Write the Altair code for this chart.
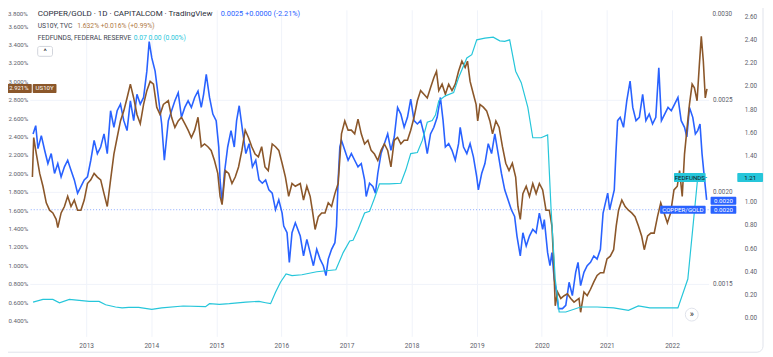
import altair as alt
import pandas as pd

# ---------------- data ----------------
# COPPER/GOLD (right axis, 0.0015 - 0.0030)
cg_year = [2012.184, 2012.225, 2012.260, 2012.311, 2012.362, 2012.412, 2012.463, 2012.514, 2012.564, 2012.615,
           2012.666, 2012.716, 2012.767, 2012.818, 2012.868, 2012.919, 2012.970, 2013.020, 2013.071, 2013.122,
           2013.172, 2013.223, 2013.274, 2013.324, 2013.375, 2013.426, 2013.476, 2013.527, 2013.578, 2013.628,
           2013.679, 2013.730, 2013.780, 2013.831, 2013.882, 2013.932, 2013.968, 2014.008, 2014.059, 2014.110,
           2014.160, 2014.201, 2014.262, 2014.312, 2014.363, 2014.414, 2014.464, 2014.515, 2014.566, 2014.616,
           2014.667, 2014.718, 2014.768, 2014.804, 2014.845, 2014.895, 2014.946, 2014.997, 2015.037, 2015.057,
           2015.088, 2015.123, 2015.174, 2015.225, 2015.275, 2015.311, 2015.351, 2015.402, 2015.453, 2015.503,
           2015.554, 2015.605, 2015.655, 2015.706, 2015.757, 2015.807, 2015.858, 2015.909, 2015.959, 2016.010,
           2016.035, 2016.086, 2016.121, 2016.162, 2016.213, 2016.289, 2016.339, 2016.390, 2016.441, 2016.491,
           2016.542, 2016.593, 2016.643, 2016.684, 2016.719, 2016.770, 2016.821, 2016.846, 2016.871, 2016.897,
           2016.922, 2016.973, 2017.024, 2017.074, 2017.125, 2017.176, 2017.226, 2017.277, 2017.302, 2017.353,
           2017.404, 2017.444, 2017.480, 2017.530, 2017.581, 2017.632, 2017.682, 2017.733, 2017.784, 2017.834,
           2017.885, 2017.936, 2017.986, 2018.037, 2018.088, 2018.138, 2018.189, 2018.240, 2018.290, 2018.341,
           2018.392, 2018.442, 2018.483, 2018.518, 2018.569, 2018.620, 2018.670, 2018.721, 2018.746, 2018.797,
           2018.848, 2018.898, 2018.949, 2019.000, 2019.025, 2019.076, 2019.126, 2019.177, 2019.228, 2019.278,
           2019.329, 2019.380, 2019.430, 2019.481, 2019.532, 2019.582, 2019.618, 2019.669, 2019.709, 2019.760,
           2019.810, 2019.861, 2019.912, 2019.962, 2020.013, 2020.038, 2020.089, 2020.125, 2020.155, 2020.190,
           2020.226, 2020.256, 2020.317, 2020.368, 2020.419, 2020.469, 2020.520, 2020.556, 2020.596, 2020.647,
           2020.697, 2020.748, 2020.799, 2020.849, 2020.900, 2020.941, 2020.976, 2021.012, 2021.042, 2021.077,
           2021.113, 2021.138, 2021.164, 2021.204, 2021.255, 2021.305, 2021.356, 2021.397, 2021.447, 2021.498,
           2021.549, 2021.599, 2021.650, 2021.701, 2021.751, 2021.797, 2021.837, 2021.888, 2021.939, 2021.989,
           2022.040, 2022.091, 2022.141, 2022.192, 2022.228, 2022.268, 2022.319, 2022.359, 2022.395, 2022.430,
           2022.461, 2022.496, 2022.532]
cg_val = [0.002315, 0.002360, 0.002235, 0.002306, 0.002226, 0.002154, 0.002208, 0.002100, 0.002154, 0.002082,
          0.002136, 0.002172, 0.002118, 0.002065, 0.001993, 0.002029, 0.002065, 0.002082, 0.002172, 0.002280,
          0.002208, 0.002244, 0.002315, 0.002208, 0.002441, 0.002351, 0.002441, 0.002477, 0.002387, 0.002333,
          0.002495, 0.002387, 0.002530, 0.002477, 0.002513, 0.002656, 0.002817, 0.002728, 0.002656, 0.002513,
          0.002369, 0.002172, 0.002387, 0.002441, 0.002495, 0.002539, 0.002405, 0.002459, 0.002495, 0.002459,
          0.002513, 0.002548, 0.002459, 0.002530, 0.002638, 0.002513, 0.002423, 0.002387, 0.002244, 0.002065,
          0.001939, 0.002100, 0.002244, 0.002333, 0.002244, 0.002387, 0.002468, 0.002333, 0.002208, 0.002262,
          0.002136, 0.002172, 0.002065, 0.002047, 0.002065, 0.002011, 0.001993, 0.001903, 0.001957, 0.001885,
          0.001814, 0.001778, 0.001617, 0.001778, 0.001832, 0.001760, 0.001652, 0.001742, 0.001670, 0.001599,
          0.001688, 0.001635, 0.001599, 0.001545, 0.001635, 0.001688, 0.001724, 0.001814, 0.002065, 0.002244,
          0.002280, 0.002226, 0.002172, 0.002208, 0.002172, 0.002136, 0.002154, 0.002065, 0.001975, 0.002047,
          0.002029, 0.001993, 0.002100, 0.002208, 0.002262, 0.002315, 0.002226, 0.002298, 0.002459, 0.002423,
          0.002351, 0.002405, 0.002504, 0.002387, 0.002369, 0.002387, 0.002315, 0.002208, 0.002315, 0.002351,
          0.002405, 0.002513, 0.002387, 0.002244, 0.002262, 0.002226, 0.002172, 0.002262, 0.002351, 0.002244,
          0.002208, 0.002262, 0.002190, 0.002082, 0.002011, 0.002100, 0.002154, 0.002262, 0.002208, 0.002315,
          0.002208, 0.002100, 0.002011, 0.001957, 0.001903, 0.001867, 0.001760, 0.001652, 0.001778, 0.001706,
          0.001760, 0.001796, 0.001778, 0.001885, 0.001796, 0.001850, 0.001670, 0.001599, 0.001670, 0.001527,
          0.001455, 0.001366, 0.001366, 0.001384, 0.001509, 0.001437, 0.001563, 0.001617, 0.001491, 0.001563,
          0.001599, 0.001617, 0.001652, 0.001635, 0.001688, 0.001885, 0.001939, 0.001993, 0.001903, 0.001957,
          0.002011, 0.002208, 0.002387, 0.002405, 0.002351, 0.002495, 0.002602, 0.002459, 0.002387, 0.002405,
          0.002530, 0.002387, 0.002423, 0.002369, 0.002405, 0.002674, 0.002387, 0.002423, 0.002459, 0.002441,
          0.002477, 0.002513, 0.002387, 0.002351, 0.002298, 0.002459, 0.002405, 0.002315, 0.002333, 0.002369,
          0.002208, 0.002082, 0.001957]

# US10Y yield, % (left axis)
us_year = [2012.174, 2012.194, 2012.235, 2012.286, 2012.336, 2012.387, 2012.438, 2012.488, 2012.539, 2012.564,
           2012.615, 2012.666, 2012.716, 2012.767, 2012.818, 2012.868, 2012.919, 2012.970, 2013.020, 2013.071,
           2013.122, 2013.172, 2013.223, 2013.274, 2013.324, 2013.375, 2013.426, 2013.476, 2013.527, 2013.578,
           2013.628, 2013.679, 2013.730, 2013.780, 2013.831, 2013.882, 2013.932, 2013.983, 2014.034, 2014.084,
           2014.135, 2014.186, 2014.262, 2014.312, 2014.363, 2014.414, 2014.464, 2014.515, 2014.566, 2014.616,
           2014.667, 2014.718, 2014.768, 2014.819, 2014.870, 2014.920, 2014.971, 2015.022, 2015.057, 2015.088,
           2015.138, 2015.189, 2015.240, 2015.290, 2015.341, 2015.392, 2015.443, 2015.493, 2015.544, 2015.595,
           2015.645, 2015.696, 2015.747, 2015.797, 2015.858, 2015.909, 2015.959, 2016.010, 2016.061, 2016.111,
           2016.162, 2016.213, 2016.289, 2016.339, 2016.390, 2016.441, 2016.481, 2016.517, 2016.567, 2016.618,
           2016.669, 2016.719, 2016.770, 2016.821, 2016.871, 2016.922, 2016.973, 2017.024, 2017.074, 2017.125,
           2017.176, 2017.226, 2017.277, 2017.328, 2017.378, 2017.429, 2017.480, 2017.530, 2017.581, 2017.632,
           2017.682, 2017.733, 2017.784, 2017.834, 2017.885, 2017.936, 2017.986, 2018.037, 2018.088, 2018.138,
           2018.189, 2018.240, 2018.290, 2018.341, 2018.382, 2018.417, 2018.468, 2018.518, 2018.569, 2018.620,
           2018.670, 2018.721, 2018.772, 2018.822, 2018.858, 2018.898, 2018.949, 2018.990, 2019.015, 2019.050,
           2019.101, 2019.152, 2019.202, 2019.243, 2019.294, 2019.344, 2019.395, 2019.446, 2019.496, 2019.547,
           2019.598, 2019.633, 2019.669, 2019.709, 2019.760, 2019.810, 2019.861, 2019.912, 2019.962, 2020.013,
           2020.064, 2020.115, 2020.155, 2020.180, 2020.206, 2020.241, 2020.292, 2020.343, 2020.393, 2020.444,
           2020.495, 2020.571, 2020.596, 2020.647, 2020.697, 2020.748, 2020.799, 2020.849, 2020.900, 2020.951,
           2021.001, 2021.052, 2021.103, 2021.143, 2021.179, 2021.229, 2021.280, 2021.331, 2021.381, 2021.432,
           2021.483, 2021.533, 2021.574, 2021.625, 2021.675, 2021.726, 2021.777, 2021.827, 2021.878, 2021.929,
           2021.979, 2022.030, 2022.081, 2022.116, 2022.157, 2022.192, 2022.228, 2022.268, 2022.309, 2022.344,
           2022.385, 2022.420, 2022.450, 2022.481, 2022.511, 2022.537]
us_val = [1.96, 2.39, 2.21, 2.00, 1.86, 1.68, 1.60, 1.57, 1.50, 1.41,
          1.57, 1.64, 1.75, 1.64, 1.71, 1.60, 1.60, 1.71, 1.89, 1.93,
          2.00, 1.96, 1.93, 1.78, 1.64, 1.93, 2.21, 2.39, 2.57, 2.68,
          2.82, 2.97, 2.82, 2.64, 2.54, 2.75, 2.90, 3.00, 2.97, 2.72,
          2.64, 2.75, 2.79, 2.61, 2.50, 2.57, 2.61, 2.54, 2.47, 2.39,
          2.47, 2.61, 2.29, 2.32, 2.29, 2.25, 2.14, 2.00, 1.75, 1.66,
          2.03, 2.00, 1.89, 1.96, 2.07, 2.25, 2.47, 2.39, 2.29, 2.21,
          2.18, 2.29, 2.07, 2.03, 2.32, 2.29, 2.25, 2.11, 1.96, 1.75,
          1.89, 1.86, 1.89, 1.71, 1.86, 1.75, 1.57, 1.39, 1.53, 1.57,
          1.57, 1.68, 1.64, 1.78, 1.89, 2.43, 2.57, 2.47, 2.47, 2.43,
          2.59, 2.43, 2.32, 2.36, 2.25, 2.21, 2.14, 2.25, 2.32, 2.25,
          2.07, 2.36, 2.39, 2.32, 2.36, 2.36, 2.47, 2.61, 2.79, 2.90,
          2.86, 2.82, 2.93, 3.04, 3.11, 2.90, 2.97, 2.86, 2.97, 2.90,
          2.97, 3.11, 3.22, 3.15, 3.22, 3.00, 2.86, 2.75, 2.57, 2.75,
          2.72, 2.68, 2.57, 2.43, 2.57, 2.50, 2.29, 2.11, 2.03, 2.11,
          1.96, 1.64, 1.50, 1.78, 1.86, 1.75, 1.89, 1.78, 1.89, 1.82,
          1.60, 1.60, 1.43, 1.07, 0.56, 0.71, 0.64, 0.67, 0.69, 0.64,
          0.60, 0.64, 0.49, 0.71, 0.67, 0.74, 0.82, 0.89, 0.92, 0.92,
          1.07, 1.10, 1.17, 1.43, 1.60, 1.71, 1.64, 1.60, 1.57, 1.53,
          1.43, 1.32, 1.17, 1.32, 1.35, 1.35, 1.53, 1.68, 1.57, 1.46,
          1.57, 1.82, 1.86, 2.03, 1.75, 2.21, 2.47, 2.75, 2.97, 2.93,
          2.79, 3.18, 3.49, 3.22, 2.82, 2.92]

# FEDFUNDS, % (inner right axis)
ff_year = [2012.184, 2012.336, 2012.488, 2012.590, 2012.742, 2012.894, 2013.046, 2013.198, 2013.299, 2013.451,
           2013.552, 2013.654, 2013.806, 2014.008, 2014.160, 2014.490, 2014.834, 2014.895, 2015.047, 2015.199,
           2015.453, 2015.655, 2015.757, 2015.833, 2015.909, 2015.985, 2016.071, 2016.162, 2016.314, 2016.542,
           2016.836, 2016.948, 2017.049, 2017.100, 2017.176, 2017.277, 2017.353, 2017.429, 2017.505, 2017.657,
           2017.834, 2017.910, 2017.986, 2018.088, 2018.164, 2018.240, 2018.316, 2018.366, 2018.417, 2018.518,
           2018.645, 2018.721, 2018.848, 2018.924, 2019.000, 2019.126, 2019.253, 2019.354, 2019.430, 2019.506,
           2019.598, 2019.684, 2019.785, 2019.861, 2019.988, 2020.089, 2020.140, 2020.206, 2020.266, 2020.368,
           2020.596, 2020.849, 2021.103, 2021.331, 2021.483, 2021.660, 2021.863, 2022.091, 2022.243, 2022.319,
           2022.395, 2022.540]
ff_val = [0.134, 0.157, 0.157, 0.128, 0.157, 0.148, 0.140, 0.140, 0.111, 0.091,
          0.083, 0.088, 0.088, 0.071, 0.083, 0.100, 0.094, 0.120, 0.114, 0.120,
          0.134, 0.140, 0.128, 0.120, 0.219, 0.305, 0.376, 0.362, 0.370, 0.396,
          0.413, 0.561, 0.661, 0.667, 0.761, 0.903, 0.917, 1.031, 1.154, 1.154,
          1.160, 1.274, 1.416, 1.425, 1.530, 1.687, 1.701, 1.749, 1.872, 1.915,
          1.943, 2.071, 2.242, 2.271, 2.399, 2.413, 2.422, 2.390, 2.385, 2.399,
          2.128, 2.029, 1.815, 1.553, 1.553, 1.578, 0.960, 0.333, 0.048, 0.048,
          0.091, 0.091, 0.083, 0.063, 0.100, 0.083, 0.083, 0.083, 0.333, 0.770,
          1.210, 1.210]

year_ticks = [2013, 2014, 2015, 2016, 2017, 2018, 2019, 2020, 2021, 2022]
us_ticks = [0.4, 0.6, 0.8, 1.0, 1.2, 1.4, 1.6, 1.8, 2.0, 2.2, 2.4, 2.6, 2.8, 3.0, 3.2, 3.4, 3.6]
cg_ticks = [0.0015, 0.0020, 0.0025]
ff_ticks = [0.0, 0.2, 0.4, 0.6, 0.8, 1.0, 1.4, 1.6, 1.8, 2.0, 2.2, 2.4, 2.6]
cg_dotted = 0.0019032

# ---------------- style ----------------
FONT = "Roboto"
BLUE = "#2962ff"
BROWN = "#8b572a"
CYAN = "#26c6da"
GRID = "#f0f3fa"
LBL = "#5d606b"
W, H = 686, 330

cg_df = pd.DataFrame({"t": cg_year, "v": cg_val})
us_df = pd.DataFrame({"t": us_year, "v": us_val})
ff_df = pd.DataFrame({"t": ff_year, "v": ff_val})

x_scale = alt.Scale(domain=[2012.1335, 2022.562], nice=False, zero=False)
x_axis = alt.Axis(values=year_ticks, format="d", grid=True, gridColor=GRID, domain=False,
                  ticks=False, tickSize=0, labelPadding=6, labelFontSize=6.6, labelColor=LBL,
                  labelFont=FONT, title=None, labelFlush=False, labelOverlap=False)
X = alt.X("t:Q", scale=x_scale, axis=x_axis)

cg_scale = alt.Scale(domain=[0.0012151, 0.0029892], nice=False, zero=False)
cg_axis = alt.Axis(orient="right", values=cg_ticks, format=".4f", grid=True, gridColor=GRID,
                   domain=False, ticks=False, tickSize=0, labelPadding=4, labelFontSize=6.4,
                   labelColor=LBL, labelFont=FONT, title=None, labelOverlap=False)
us_scale = alt.Scale(domain=[0.2278, 3.77848], nice=False, zero=False)
us_axis = alt.Axis(orient="left", values=us_ticks, labelExpr="format(datum.value, '.3f') + '%'",
                   grid=False, domain=False, ticks=False, tickSize=0, labelPadding=2,
                   labelFontSize=6.2, labelColor=LBL, labelFont=FONT, title=None, labelOverlap=False)
ff_scale = alt.Scale(domain=[-0.1624, 2.6581], nice=False, zero=False)
ff_axis = alt.Axis(orient="right", offset=32, values=ff_ticks, format=".2f", grid=False,
                   domain=False, ticks=False, tickSize=0, labelPadding=4, labelFontSize=6.4,
                   labelColor=LBL, labelFont=FONT, title=None, labelOverlap=False)

cg_rule = alt.Chart(pd.DataFrame({"v": [cg_dotted]})).mark_rule(
    color=BLUE, strokeWidth=1, strokeDash=[1, 2], opacity=0.55
).encode(y=alt.Y("v:Q", scale=cg_scale, axis=cg_axis))
cg_line = alt.Chart(cg_df).mark_line(color=BLUE, strokeWidth=1.6).encode(
    x=X, y=alt.Y("v:Q", scale=cg_scale, axis=cg_axis))
cg_group = alt.layer(cg_rule, cg_line)

us_line = alt.Chart(us_df).mark_line(color=BROWN, strokeWidth=1.6).encode(
    x=X, y=alt.Y("v:Q", scale=us_scale, axis=us_axis))
ff_line = alt.Chart(ff_df).mark_line(color=CYAN, strokeWidth=1.2).encode(
    x=X, y=alt.Y("v:Q", scale=ff_scale, axis=ff_axis))

one = pd.DataFrame({"s": ["."]})


def txt(s, x, y, color, size=6.3, align="left", weight="normal"):
    return alt.Chart(pd.DataFrame({"s": [s]})).mark_text(
        align=align, baseline="middle", fontSize=size, font=FONT, color=color, fontWeight=weight
    ).encode(text="s:N", x=alt.value(x), y=alt.value(y))


def box(x1, x2, y1, y2, fill, stroke=None, radius=1, fill_opacity=1.0):
    kw = dict(fill=fill, cornerRadius=radius, fillOpacity=fill_opacity)
    if stroke:
        kw["stroke"] = stroke
        kw["strokeWidth"] = 1
    return alt.Chart(one).mark_rect(**kw).encode(
        x=alt.value(x1), x2=alt.value(x2), y=alt.value(y1), y2=alt.value(y2))


annots = [
    box(-28, 741, -20, 346, "white", stroke="#e0e3eb", radius=6, fill_opacity=0.0),
    # legend header
    txt("COPPER/GOLD · 1D · CAPITALCOM · TradingView", 8, 4.5, "#2a2e39", 8.1),
    txt("0.0025  +0.0000  (-2.21%)", 193, 4.5, BLUE, 7.4),
    txt("US10Y, TVC", 8, 16.5, "#434651", 6.8),
    txt("1.632%  +0.016%  (+0.99%)", 48, 16.5, "#b07a45", 6.8),
    txt("FEDFUNDS, FEDERAL RESERVE", 8, 28.5, "#434651", 6.8),
    txt("0.07  0.00  (0.00%)", 105, 28.5, CYAN, 6.8),
    box(8, 23, 37, 47, "white", stroke="#d1d4dc", radius=2),
    txt("^", 15.5, 43, "#131722", 8, align="center"),
    # top axis labels
    txt("3.800%", -2, 3.8, LBL, 6.2, align="right"),
    txt("0.0030", 690, 3.8, LBL, 6.4),
    # price labels
    box(-26, 2, 75, 84, BROWN),
    txt("2.921%", -11, 79.5, "white", 6.0, align="center"),
    box(3, 27, 75, 84, BROWN),
    txt("US10Y", 15, 79.5, "white", 6.2, align="center"),
    box(651, 683, 165, 174, CYAN),
    txt("FEDFUNDS", 667, 169.5, "#131722", 6.2, align="center"),
    box(715, 741, 165, 174, CYAN),
    txt("1.21", 728, 169.5, "#131722", 6.2, align="center"),
    box(688, 714, 189, 197, BLUE),
    txt("0.0020", 701, 193, "white", 6.2, align="center"),
    box(688, 714, 198, 206, BLUE),
    txt("0.0020", 701, 202, "white", 6.2, align="center"),
    box(637, 683, 198, 206, BLUE),
    txt("COPPER/GOLD", 660, 202, "white", 6.2, align="center"),
    # scroll button
    alt.Chart(one).mark_point(shape="circle", filled=True, fill="white", stroke="#e0e3eb",
                              strokeWidth=1, size=170, opacity=1).encode(
        x=alt.value(669), y=alt.value(308)),
    txt("»", 669, 307.5, "#131722", 9, align="center"),
]

chart = alt.layer(cg_group, us_line, ff_line, *annots).resolve_scale(
    y="independent"
).properties(
    width=W, height=H,
    autosize=alt.AutoSizeParams(type="none"),
    padding={"left": 22, "top": 0, "right": 57, "bottom": 18},
    background="white",
).configure_view(stroke=None)

chart.save("out.html", embed_options={"renderer": "svg", "actions": False})
